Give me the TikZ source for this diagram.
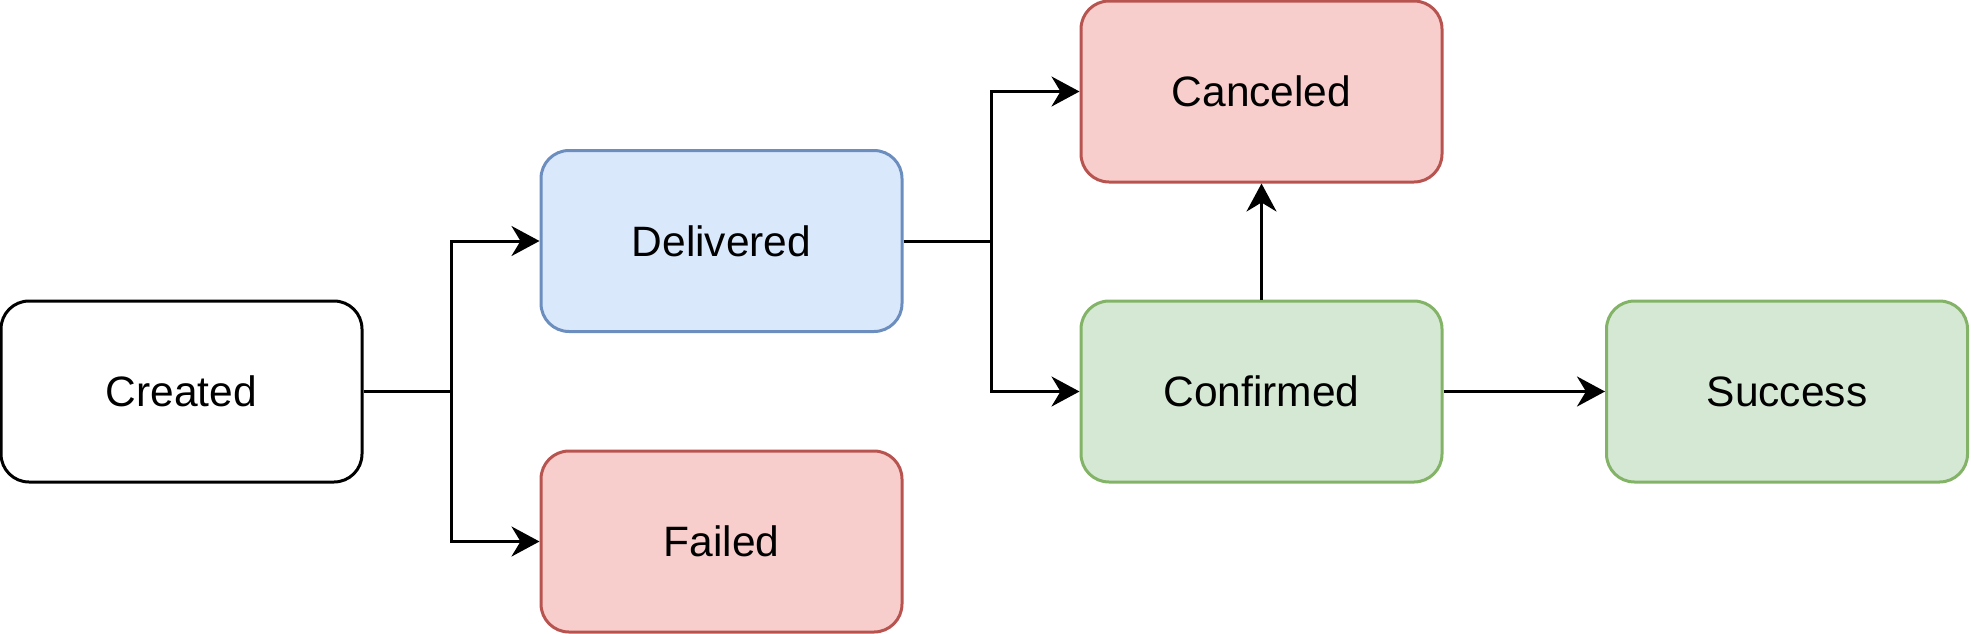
\documentclass[tikz,border=0pt]{standalone}
\usepackage{fontspec}
\setmainfont{Liberation Sans}
\usetikzlibrary{arrows.meta}
\definecolor{blueF}{HTML}{DAE8FC}\definecolor{blueS}{HTML}{6C8EBF}
\definecolor{redF}{HTML}{F8CECC}\definecolor{redS}{HTML}{B85450}
\definecolor{greenF}{HTML}{D5E8D4}\definecolor{greenS}{HTML}{82B366}
\begin{document}
\begin{tikzpicture}[x=1pt,y=-1pt,
  state/.style={rectangle, rounded corners=28pt, minimum width=361pt, minimum height=181pt,
    inner sep=0pt, line width=3pt, font=\fontsize{42.5}{50}\selectfont},
  plain/.style={state, draw=black, fill=white},
  blue/.style={state, draw=blueS, fill=blueF},
  red/.style={state, draw=redS, fill=redF},
  green/.style={state, draw=greenS, fill=greenF},
  conn/.style={line width=3pt, draw=black},
  arr/.style={conn, -{Stealth[length=28pt, width=30pt, inset=9pt]}}]
\useasboundingbox (0,0) rectangle (1971,633);
\node[plain] (created) at (181.5,391.5) {Created};
\node[blue] (delivered) at (721.5,241) {Delivered};
\node[red] (failed) at (721.5,541.5) {Failed};
\node[red] (canceled) at (1261.5,91.5) {Canceled};
\node[green] (confirmed) at (1261.5,391.5) {Confirmed};
\node[green] (success) at (1787,391.5) {Success};
\coordinate (j1) at (451,391.5);
\coordinate (j2) at (991,241);
\draw[conn] (created.east) -- (j1);
\draw[arr] (j1) |- (delivered.west);
\draw[arr] (j1) |- (failed.west);
\draw[conn] (delivered.east) -- (j2);
\draw[arr] (j2) |- (canceled.west);
\draw[arr] (j2) |- (confirmed.west);
\draw[arr] (confirmed.north) -- (canceled.south);
\draw[arr] (confirmed.east) -- (success.west);
\end{tikzpicture}
\end{document}
